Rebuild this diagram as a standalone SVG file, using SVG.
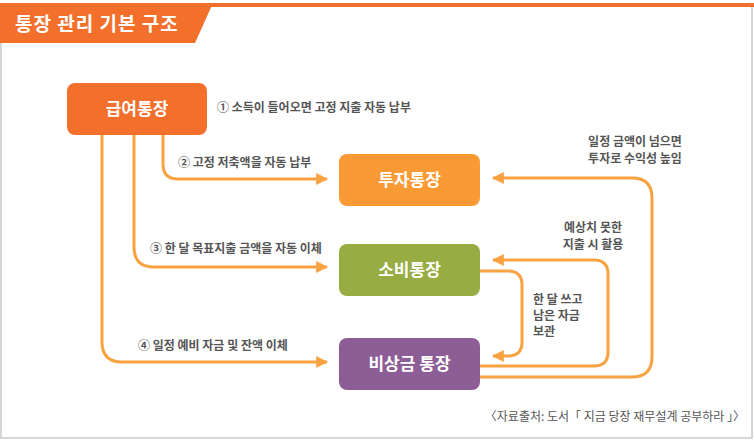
<svg xmlns="http://www.w3.org/2000/svg" width="754" height="442" viewBox="0 0 754 442">
<defs>
<style>
.frame{fill:none;stroke:#d6d6d6;stroke-width:2}
.node text{font-family:"Noto Sans CJK KR","Noto Sans",sans-serif;font-size:17px;font-weight:bold;fill:#fff;text-anchor:middle}
.lbl{font-family:"Noto Sans CJK KR","Noto Sans",sans-serif;font-size:12px;font-weight:bold;fill:#555}
.c{fill:none;stroke:#f9a241;stroke-width:3;marker-end:url(#ah)}
.src{font-family:"Noto Sans CJK KR","Noto Sans",sans-serif;font-size:12px;fill:#555;text-anchor:end}
</style>
<marker id="ah" viewBox="0 0 10 10" refX="9" refY="5" markerWidth="4" markerHeight="4" orient="auto" markerUnits="strokeWidth">
<path d="M0,0 L10,5 L0,10 Z" fill="#f9a241"/>
</marker>
</defs>
<rect width="754" height="442" fill="#fff"/>
<path class="frame" d="M1,6 V438 H752 V6"/>
<rect x="0" y="3" width="754" height="4" fill="#f36f2c"/>
<polygon points="0,3 213,3 195,43 0,43" fill="#f36f2c"/>
<text x="15" y="31" font-family="Noto Sans CJK KR, Noto Sans, sans-serif" font-size="19" font-weight="bold" letter-spacing="1" fill="#fff">통장 관리 기본 구조</text>

<g id="connectors">
<path class="c" d="M163,135 V164 Q163,179 178,179 H327"/>
<path class="c" d="M134,135 V247 Q134,267 154,267 H327"/>
<path class="c" d="M102,135 V342 Q102,362 122,362 H327"/>
<path class="c" d="M480,271 H508 Q522,271 522,285 V342 Q522,356 508,356 H493"/>
<path class="c" d="M480,366 H594 Q608,366 608,352 V274 Q608,260 594,260 H493"/>
<path class="c" d="M480,377 H632 Q652,377 652,357 V198 Q652,178 632,178 H493"/>
</g>

<g id="n-salary" class="node"><rect x="67" y="83" width="140" height="52" rx="8" fill="#f36f2c"/><text x="137" y="115">급여통장</text></g>
<g id="n-invest" class="node"><rect x="339" y="154" width="141" height="52" rx="8" fill="#f99a35"/><text x="409.5" y="186">투자통장</text></g>
<g id="n-spend" class="node"><rect x="339" y="244" width="141" height="52" rx="8" fill="#97ac43"/><text x="409.5" y="276">소비통장</text></g>
<g id="n-emerg" class="node"><rect x="339" y="338" width="141" height="52" rx="8" fill="#8c5e95"/><text x="409.5" y="370">비상금 통장</text></g>

<text class="lbl" x="217" y="112">① 소득이 들어오면 고정 지출 자동 납부</text>
<text class="lbl" x="178" y="167">② 고정 저축액을 자동 납부</text>
<text class="lbl" x="150" y="253">③ 한 달 목표지출 금액을 자동 이체</text>
<text class="lbl" x="138" y="350">④ 일정 예비 자금 및 잔액 이체</text>
<text class="lbl" x="635" y="146" text-anchor="middle">일정 금액이 넘으면</text>
<text class="lbl" x="635" y="163" text-anchor="middle">투자로 수익성 높임</text>
<text class="lbl" x="593" y="232" text-anchor="middle">예상치 못한</text>
<text class="lbl" x="593" y="249" text-anchor="middle">지출 시 활용</text>
<text class="lbl" x="533" y="304">한 달 쓰고</text>
<text class="lbl" x="533" y="320">남은 자금</text>
<text class="lbl" x="533" y="336">보관</text>
<text class="src" x="745" y="421">〈자료출처: 도서「 지금 당장 재무설계 공부하라 」〉</text>
</svg>
